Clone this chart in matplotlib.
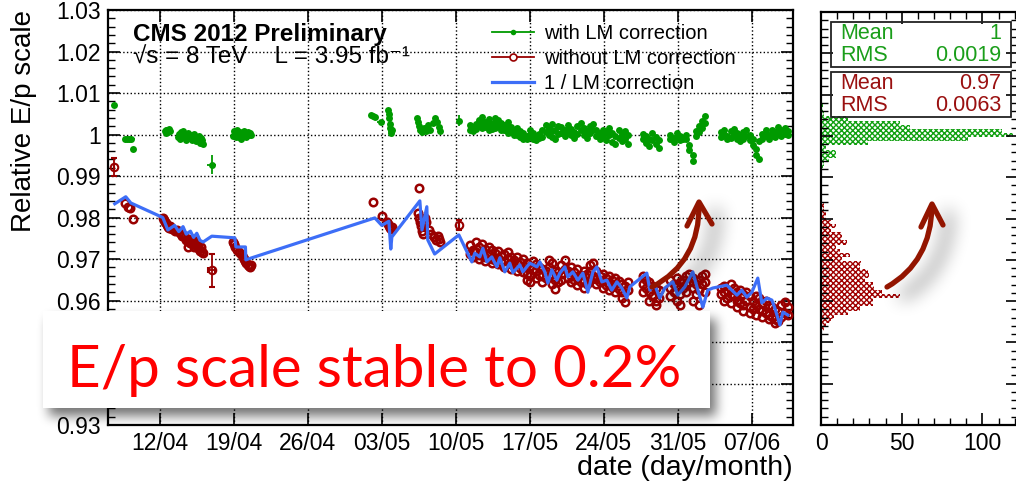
import numpy as np
import matplotlib
matplotlib.use('Agg')
import matplotlib.pyplot as plt
from matplotlib.lines import Line2D
from matplotlib.patches import Rectangle, PathPatch
from matplotlib.path import Path
from matplotlib.ticker import MultipleLocator, FixedLocator, FuncFormatter

plt.rcParams['font.family'] = ['Liberation Sans', 'DejaVu Sans']
plt.rcParams['hatch.linewidth'] = 1.0

GREEN = '#009a00'
RED = '#990000'
BLUE = '#3d6ef7'
ARROW = '#931500'

# x axis: day count from 31 March (12 = 12/04, 33 = 03/05, 68 = 07/06)
tick_days = [12, 19, 26, 33, 40, 47, 54, 61, 68]
tick_labels = ['12/04', '19/04', '26/04', '03/05', '10/05', '17/05', '24/05', '31/05', '07/06']

# ---- with LM correction (green) ----
green_days = [7.65, 8.7, 8.9, 9.1, 9.5,
              12.5, 12.55, 12.6, 12.7, 12.8, 12.9, 13.0,
              13.7, 13.8, 13.9, 14.0, 14.1, 14.2, 14.3, 14.4, 14.5, 14.6, 14.7, 14.8, 14.9,
              15.0, 15.1, 15.2, 15.3, 15.4, 15.5, 15.6, 15.7, 15.8, 15.9, 16.0, 16.1,
              18.9, 19.0, 19.1, 19.2, 19.3, 19.4, 19.5, 19.6, 19.7, 19.8, 19.9, 20.0, 20.1,
              20.2, 20.3, 20.4, 20.5, 20.6,
              32.0, 32.2, 32.4,
              33.6, 33.65, 33.7, 33.75, 33.8, 33.85, 33.9, 34.0,
              36.3, 36.4, 36.5, 36.6, 36.8, 37.0, 37.2, 37.4, 37.6, 37.8, 38.0, 38.2, 38.4, 38.5]
green_vals = [1.0072, 0.9988, 0.9990, 0.9989, 0.9966,
              1.0008, 1.0003, 1.0012, 1.0010, 1.0005, 1.0013, 1.0009,
              0.9995, 1.0002, 0.9990, 1.0005, 0.9998, 1.0008, 0.9994, 1.0001, 0.9987, 0.9996, 1.0003, 0.9992, 0.9999,
              0.9986, 0.9995, 1.0001, 0.9990, 0.9984, 0.9994, 0.9988, 0.9997, 0.9980, 0.9991, 0.9986, 0.9978,
              0.9997, 1.0008, 1.0002, 0.9993, 1.0010, 1.0000, 0.9995, 1.0005, 0.9990, 1.0002, 0.9996, 1.0009, 1.0003,
              0.9993, 1.0006, 0.9998, 1.0004, 0.9999,
              1.0048, 1.0044, 1.0041,
              1.0058, 1.0050, 1.0040, 1.0025, 1.0015, 1.0008, 1.0004, 1.0012,
              1.0040, 1.0030, 1.0020, 1.0012, 1.0006, 1.0015, 1.0008, 1.0022, 1.0012, 1.0028, 1.0040, 1.0030, 1.0018, 1.0009]

green_band_days = [41.3, 41.3, 41.6, 41.6, 41.9, 41.9, 42.2, 42.2, 42.5, 42.5, 42.5, 42.8, 42.8,
                   43.1, 43.1, 43.1, 43.4, 43.4, 43.7, 43.7, 43.7, 44.0, 44.0, 44.3, 44.3, 44.6, 44.6,
                   44.9, 44.9, 44.9, 45.2, 45.2, 45.5, 45.5, 45.8, 45.8, 46.1, 46.1, 46.4, 46.4, 46.7, 46.7,
                   47.0, 47.0, 47.3, 47.3, 47.6, 47.6, 47.9, 47.9, 48.2, 48.2, 48.5, 48.5, 48.8, 48.8,
                   49.1, 49.1, 49.1, 49.4, 49.4, 49.7, 49.7,
                   50.0, 50.0, 50.3, 50.3, 50.6, 50.6, 50.9, 50.9, 51.2, 51.2, 51.5, 51.5, 51.8, 51.8,
                   52.1, 52.1, 52.4, 52.4, 52.7, 52.7, 53.0, 53.0, 53.3, 53.3, 53.6, 53.6, 53.9, 53.9,
                   54.2, 54.2, 54.5, 54.5, 54.8, 54.8, 55.1, 55.1, 55.4, 55.4, 55.7, 55.7, 56.0, 56.0, 56.3, 56.3,
                   57.7, 57.7, 58.0, 58.0, 58.3, 58.3, 58.6, 58.6, 58.9, 58.9, 59.2, 59.2,
                   60.3, 60.3, 60.6, 60.6, 60.9, 60.9, 61.2, 61.2, 61.5, 61.8, 61.8, 62.1, 62.1, 62.4, 62.4,
                   62.7, 62.7, 63.0, 63.0, 63.3, 63.3, 63.6, 63.6,
                   65.1, 65.1, 65.4, 65.4, 65.7, 65.7, 66.0, 66.0, 66.3, 66.3, 66.6, 66.6, 66.9, 66.9,
                   67.2, 67.2, 67.5, 67.5, 67.8, 67.8, 68.1, 68.1, 68.4, 68.4, 68.7, 68.7, 69.0, 69.0,
                   69.3, 69.3, 69.6, 69.6, 69.9, 69.9, 70.2, 70.2, 70.5, 70.5, 70.8, 70.8, 71.1, 71.1, 71.4, 71.4]
green_band_vals = [1.0022, 1.0012, 1.0018, 1.0008, 1.0025, 1.0014, 1.0035, 1.0020, 1.0042, 1.0028, 1.0015, 1.0030, 1.0018,
                   1.0038, 1.0022, 1.0010, 1.0026, 1.0014, 1.0040, 1.0030, 1.0016, 1.0034, 1.0020, 1.0028, 1.0012, 1.0022, 1.0010,
                   1.0030, 1.0016, 1.0004, 1.0018, 1.0006, 1.0012, 1.0000, 1.0015, 0.9998, 1.0008, 0.9994, 1.0004, 0.9990, 0.9996, 0.9988,
                   1.0010, 0.9998, 1.0004, 0.9990, 0.9996, 0.9986, 1.0002, 0.9992, 1.0010, 0.9995, 1.0022, 1.0006, 1.0016, 0.9998,
                   1.0026, 1.0008, 0.9994, 1.0012, 0.9990, 1.0020, 1.0002,
                   1.0018, 1.0004, 1.0010, 0.9996, 1.0024, 1.0008, 1.0014, 0.9998, 1.0006, 0.9992, 1.0020, 1.0002, 1.0028, 1.0012,
                   1.0016, 0.9998, 1.0008, 0.9992, 1.0020, 1.0004, 1.0026, 1.0010, 1.0012, 0.9996, 1.0004, 0.9990, 1.0012, 0.9996,
                   1.0006, 0.9986, 1.0016, 1.0000, 1.0004, 0.9982, 0.9996, 0.9978, 1.0010, 0.9992, 1.0002, 0.9984, 1.0008, 0.9988, 0.9998, 0.9976,
                   1.0002, 0.9988, 0.9996, 0.9980, 0.9990, 0.9972, 1.0004, 0.9986, 0.9994, 0.9978, 0.9986, 0.9968,
                   0.9998, 0.9988, 0.9992, 0.9982, 1.0004, 0.9994, 0.9996, 0.9986, 0.9988, 1.0000, 0.9990, 0.9975, 0.9962, 0.9950, 0.9935,
                   1.0008, 0.9996, 1.0020, 1.0005, 1.0032, 1.0015, 1.0045, 1.0028,
                   1.0005, 0.9994, 1.0012, 0.9998, 0.9996, 0.9988, 1.0008, 0.9992, 1.0014, 1.0000, 1.0004, 0.9990, 0.9996, 0.9984,
                   1.0006, 0.9990, 1.0010, 0.9996, 0.9998, 0.9986, 0.9990, 0.9975, 0.9965, 0.9950, 0.9940, 0.9985, 1.0002, 0.9990,
                   1.0010, 0.9996, 1.0000, 0.9988, 1.0012, 1.0000, 1.0006, 0.9994, 1.0018, 1.0004, 1.0010, 0.9996, 1.0016, 1.0002, 1.0008, 0.9998]

# low-statistics runs drawn with their errors
green_err_days = [9.3, 16.9, 32.9, 40.3]
green_err_vals = [0.9990, 0.9927, 1.0031, 1.0033]
green_err_y = [0.0002, 0.0023, 0.0003, 0.0013]
green_err_x = [0.35, 0.4, 0.4, 0.0]

# ---- without LM correction (red) ----
red_days = [8.7, 9.0, 9.2, 9.5,
            12.3, 12.4, 12.5, 12.6, 12.7, 12.8, 12.9, 13.0, 13.2, 13.4, 13.6, 13.8, 14.0, 14.1, 14.2,
            14.4, 14.5, 14.6, 14.7, 14.8, 14.9, 15.0, 15.1, 15.2, 15.3, 15.4, 15.5, 15.6, 15.7, 15.8,
            15.9, 16.0, 16.1,
            18.9, 19.0, 19.1, 19.3, 19.5, 19.7, 19.9, 20.0, 20.1, 20.2, 20.3, 20.4, 20.5, 20.6,
            32.2, 33.0, 33.5, 33.6, 33.7, 33.8, 33.9, 34.0,
            36.5, 36.4, 36.5, 36.6, 36.7, 36.8, 36.9, 37.1, 37.2, 37.5, 37.7, 37.9, 38.1, 38.3, 38.4, 38.5]
red_vals = [0.9835, 0.9826, 0.9822, 0.9796,
            0.9800, 0.9795, 0.9790, 0.9786, 0.9781, 0.9778, 0.9775, 0.9779, 0.9772, 0.9768, 0.9770, 0.9764, 0.9760, 0.9755, 0.9758,
            0.9752, 0.9745, 0.9749, 0.9729, 0.9742, 0.9738, 0.9748, 0.9735, 0.9730, 0.9744, 0.9738, 0.9728, 0.9733, 0.9725, 0.9720,
            0.9730, 0.9718, 0.9714,
            0.9741, 0.9735, 0.9729, 0.9722, 0.9718, 0.9712, 0.9705, 0.9700, 0.9695, 0.9690, 0.9686, 0.9682, 0.9680, 0.9685,
            0.9837, 0.9804, 0.9790, 0.9784, 0.9779, 0.9775, 0.9772, 0.9778,
            0.9871, 0.9812, 0.9800, 0.9790, 0.9780, 0.9768, 0.9760, 0.9800, 0.9790, 0.9770, 0.9760, 0.9752, 0.9745, 0.9755, 0.9749, 0.9742]

red_band_days = [41.3, 41.3, 41.6, 41.6, 41.9, 41.9, 42.2, 42.2, 42.2, 42.5, 42.5, 42.8, 42.8, 42.8,
                 43.1, 43.1, 43.4, 43.4, 43.4, 43.7, 43.7, 44.0, 44.0, 44.0, 44.3, 44.3, 44.6, 44.6, 44.6,
                 44.9, 44.9, 45.2, 45.2, 45.2, 45.5, 45.5, 45.8, 45.8, 45.8, 46.1, 46.1, 46.4, 46.4, 46.4,
                 46.7, 46.7, 46.7, 47.0, 47.0, 47.0, 47.3, 47.3, 47.6, 47.6, 47.6, 47.9, 47.9, 48.2, 48.2, 48.2,
                 48.5, 48.5, 48.8, 48.8, 48.8, 49.1, 49.1, 49.1, 49.4, 49.4, 49.4, 49.7, 49.7,
                 50.0, 50.0, 50.0, 50.3, 50.3, 50.6, 50.6, 50.9, 50.9, 50.9, 51.2, 51.2, 51.5, 51.5, 51.5,
                 51.8, 51.8, 52.1, 52.1, 52.1, 52.4, 52.4, 52.7, 52.7, 52.7, 53.0, 53.0, 53.3, 53.3, 53.3,
                 53.6, 53.6, 53.9, 53.9, 53.9, 54.2, 54.2, 54.5, 54.5, 54.5, 54.8, 54.8, 55.1, 55.1, 55.1,
                 55.4, 55.4, 55.7, 55.7, 55.7, 56.0, 56.0, 56.3, 56.3,
                 57.7, 57.7, 57.7, 58.0, 58.0, 58.3, 58.3, 58.3, 58.6, 58.6, 58.9, 58.9, 58.9, 59.2, 59.2,
                 60.3, 60.3, 60.3, 60.6, 60.6, 60.9, 60.9, 60.9, 61.2, 61.2, 61.2, 61.5, 61.5, 61.8, 61.8, 61.8,
                 62.1, 62.1, 62.4, 62.4, 62.4, 62.7, 62.7, 63.0, 63.0, 63.0, 63.3, 63.3, 63.6, 63.6, 63.6,
                 65.1, 65.1, 65.4, 65.4, 65.4, 65.7, 65.7, 66.0, 66.0, 66.0, 66.3, 66.3, 66.6, 66.6, 66.6,
                 66.9, 66.9, 67.2, 67.2, 67.2, 67.5, 67.5, 67.8, 67.8, 67.8, 68.1, 68.1, 68.4, 68.4, 68.4,
                 68.7, 68.7, 69.0, 69.0, 69.0, 69.3, 69.3, 69.6, 69.6, 69.6, 69.9, 69.9, 70.2, 70.2, 70.2,
                 70.5, 70.5, 70.8, 70.8, 71.1, 71.1, 71.4, 71.4]
red_band_vals = [0.9734, 0.9712, 0.9722, 0.9705, 0.9740, 0.9718, 0.9728, 0.9710, 0.9700, 0.9735, 0.9715, 0.9725, 0.9705, 0.9695,
                 0.9730, 0.9712, 0.9722, 0.9700, 0.9690, 0.9715, 0.9698, 0.9720, 0.9703, 0.9688, 0.9708, 0.9692, 0.9712, 0.9695, 0.9680,
                 0.9718, 0.9700, 0.9705, 0.9688, 0.9675, 0.9698, 0.9682, 0.9705, 0.9690, 0.9672, 0.9693, 0.9678, 0.9700, 0.9684, 0.9668,
                 0.9690, 0.9665, 0.9650, 0.9682, 0.9660, 0.9645, 0.9695, 0.9675, 0.9688, 0.9670, 0.9655, 0.9680, 0.9662, 0.9676, 0.9658, 0.9645,
                 0.9672, 0.9655, 0.9698, 0.9680, 0.9660, 0.9690, 0.9665, 0.9640, 0.9670, 0.9650, 0.9628, 0.9668, 0.9645,
                 0.9685, 0.9665, 0.9650, 0.9698, 0.9675, 0.9672, 0.9655, 0.9680, 0.9660, 0.9645, 0.9668, 0.9650, 0.9676, 0.9655, 0.9638,
                 0.9662, 0.9645, 0.9670, 0.9650, 0.9630, 0.9665, 0.9640, 0.9685, 0.9670, 0.9650, 0.9690, 0.9660, 0.9672, 0.9652, 0.9640,
                 0.9660, 0.9645, 0.9665, 0.9648, 0.9630, 0.9655, 0.9638, 0.9660, 0.9640, 0.9625, 0.9650, 0.9632, 0.9655, 0.9640, 0.9620,
                 0.9648, 0.9628, 0.9640, 0.9620, 0.9605, 0.9635, 0.9596, 0.9645, 0.9625,
                 0.9660, 0.9640, 0.9620, 0.9650, 0.9630, 0.9645, 0.9620, 0.9600, 0.9635, 0.9610, 0.9630, 0.9600, 0.9589, 0.9625, 0.9605,
                 0.9650, 0.9630, 0.9610, 0.9640, 0.9620, 0.9655, 0.9635, 0.9600, 0.9645, 0.9615, 0.9590, 0.9650, 0.9630, 0.9660, 0.9640, 0.9620,
                 0.9665, 0.9645, 0.9655, 0.9630, 0.9600, 0.9640, 0.9615, 0.9650, 0.9625, 0.9590, 0.9660, 0.9640, 0.9665, 0.9645, 0.9620,
                 0.9630, 0.9615, 0.9635, 0.9620, 0.9600, 0.9625, 0.9605, 0.9640, 0.9615, 0.9595, 0.9630, 0.9610, 0.9620, 0.9600, 0.9585,
                 0.9625, 0.9595, 0.9615, 0.9590, 0.9575, 0.9620, 0.9600, 0.9610, 0.9585, 0.9570, 0.9600, 0.9580, 0.9612, 0.9590, 0.9565,
                 0.9605, 0.9580, 0.9595, 0.9575, 0.9560, 0.9600, 0.9570, 0.9590, 0.9565, 0.9555, 0.9585, 0.9560, 0.9580, 0.9555, 0.9545,
                 0.9575, 0.9550, 0.9590, 0.9560, 0.9596, 0.9570, 0.9585, 0.9565]

red_err_days = [7.7, 16.9, 40.3]
red_err_vals = [0.9922, 0.9673, 0.9782]
red_err_y = [0.0022, 0.0040, 0.0012]
red_err_x = [0.0, 0.35, 0.0]

# ---- 1 / LM correction (blue line) ----
lm_days = [7.74, 8.78, 9.26, 12.28, 12.76, 13.4, 13.8, 14.2, 14.5, 14.9, 15.2, 15.5, 15.8, 16.1,
           16.92, 19.1, 19.2, 20.1, 20.14, 20.6,
           32.34, 33.0, 33.67, 33.85, 33.95, 36.6, 36.8, 37.26, 37.35, 38.0, 40.29,
           41.52, 41.8, 42.27, 42.56, 42.94, 43.41, 43.88, 44.17, 44.64, 45.11, 45.4, 46.06, 46.34,
           47.0, 47.67, 47.95, 48.42, 48.71, 49.09, 49.56, 49.84, 50.32, 50.6, 51.07, 51.55, 52.02,
           52.49, 52.97, 53.34, 53.82, 54.29, 54.76, 55.24, 55.71, 56.18, 56.47, 58.07, 58.36, 58.83,
           59.3, 59.77, 60.53, 61.0, 61.67, 62.42, 62.9, 63.37, 63.84, 64.31, 65.64, 66.11, 66.59,
           67.06, 67.53, 68.01, 68.57, 68.95, 69.43, 69.9, 70.18, 70.66, 70.94, 71.41]
lm_vals = [0.9833, 0.9850, 0.9835, 0.9800, 0.9770, 0.9781, 0.9766, 0.9778, 0.9760, 0.9767, 0.9752, 0.9762, 0.9745, 0.9741,
           0.9755, 0.9751, 0.9729, 0.9729, 0.9698, 0.9702,
           0.9799, 0.9781, 0.9791, 0.9724, 0.9753, 0.9840, 0.9770, 0.9826, 0.9746, 0.9712, 0.9758,
           0.9693, 0.9714, 0.9705, 0.9726, 0.9693, 0.9705, 0.9681, 0.9703, 0.9669, 0.9690, 0.9667, 0.9686, 0.9669,
           0.9690, 0.9681, 0.9693, 0.9669, 0.9642, 0.9674, 0.9649, 0.9666, 0.9681, 0.9657, 0.9669, 0.9649, 0.9666,
           0.9620, 0.9669, 0.9681, 0.9645, 0.9649, 0.9625, 0.9645, 0.9630, 0.9606, 0.9633, 0.9666, 0.9625, 0.9637,
           0.9606, 0.9630, 0.9645, 0.9613, 0.9633, 0.9669, 0.9625, 0.9584, 0.9625, 0.9630, 0.9637, 0.9625, 0.9613,
           0.9625, 0.9608, 0.9620, 0.9654, 0.9594, 0.9606, 0.9601, 0.9582, 0.9541, 0.9572, 0.9565]

# ---- projections (0.001 wide bins, listed from the top bin down) ----
hist_bin = 0.001
green_hist_top = 1.0077
green_counts = [1, 1, 2, 17, 49, 55, 112, 119, 91, 29, 3, 9, 9, 5, 2, 1]
red_hist_top = 0.9837
red_counts = [2, 2, 3, 3, 6, 9, 6, 13, 13, 16, 9, 12, 18, 13, 25, 24, 29, 30, 27, 32, 33, 38, 49,
              32, 32, 24, 17, 8, 6, 3, 2]
stats_green = [('Mean', '1'), ('RMS', '0.0019')]
stats_red = [('Mean', '0.97'), ('RMS', '0.0063')]

# y labels sitting under the callout box
covered_ticks = [0.94, 0.95]

W, H = 1016, 482
fig = plt.figure(figsize=(W / 100, H / 100), dpi=100)
ax = fig.add_axes([108 / W, 57 / H, 685 / W, 415 / H])
axh = fig.add_axes([821 / W, 57 / H, 197 / W, 413 / H])

# main time series
ax.plot(red_days + red_band_days, red_vals + red_band_vals, 'o', ls='none', mfc='none', mec=RED,
        ms=5.4, mew=1.8, zorder=3)
ax.errorbar(red_err_days, red_err_vals, yerr=red_err_y, xerr=red_err_x, fmt='o', mfc='none', mec=RED,
            ecolor=RED, ms=5.4, mew=1.5, elinewidth=1.3, capsize=2, zorder=3)
ax.plot(green_days + green_band_days, green_vals + green_band_vals, 'o', ls='none', color=GREEN,
        ms=5, mew=0, zorder=4)
ax.errorbar(green_err_days, green_err_vals, yerr=green_err_y, xerr=green_err_x, fmt='o', color=GREEN,
            ms=5, mew=0, elinewidth=1.3, capsize=2, zorder=4)
ax.plot(lm_days, lm_vals, '-', color=BLUE, lw=2.3, zorder=5)


def ylab(v, pos):
    v = round(v, 2)
    return '' if v in covered_ticks else format(v, 'g')


ax.set_xlim(7.1, 71.9)
ax.set_ylim(0.93, 1.03)
ax.xaxis.set_major_locator(FixedLocator(tick_days))
ax.set_xticklabels(tick_labels)
ax.yaxis.set_major_locator(MultipleLocator(0.01))
ax.yaxis.set_minor_locator(MultipleLocator(0.002))
ax.yaxis.set_major_formatter(FuncFormatter(ylab))
ax.tick_params(which='both', direction='in', top=True, right=True, labelsize=16.5)
ax.tick_params(which='major', length=8.5, width=1.2, pad=5)
ax.tick_params(which='minor', length=5, width=1.0)
ax.grid(True, which='major', ls=':', color='k', lw=1.0)
ax.set_axisbelow(True)
for s in ax.spines.values():
    s.set_linewidth(1.6)

ax.set_ylabel('Relative E/p scale', fontsize=20, loc='top')
ax.yaxis.set_label_coords(-0.103, 1.0)
ax.set_xlabel('date (day/month)', fontsize=20.5, loc='right')
ax.xaxis.set_label_coords(1.0, -0.072)

ax.text(0.0365, 0.94, 'CMS 2012 Preliminary', transform=ax.transAxes, fontsize=17.5,
        fontweight='bold', va='center', ha='left')
ax.text(0.0365, 0.884, '\u221as = 8 TeV    L = 3.95 fb\u207b\u00b9', transform=ax.transAxes,
        fontsize=17.5, va='center', ha='left')

handles = [Line2D([], [], color=GREEN, marker='o', ms=4, mew=0, lw=1.3),
           Line2D([], [], color=RED, marker='o', mfc='white', mec=RED, ms=5, mew=1.2, lw=1.3),
           Line2D([], [], color=BLUE, lw=2.3)]
ax.legend(handles, ['with LM correction', 'without LM correction', '1 / LM correction'],
          loc='upper left', bbox_to_anchor=(0.5606, 0.966), frameon=False, fontsize=14.5,
          handlelength=2.1, handletextpad=0.5, labelspacing=0.3, borderpad=0, borderaxespad=0)

# projection histograms
g_centers = [green_hist_top - (i + 0.5) * hist_bin for i in range(len(green_counts))]
r_centers = [red_hist_top - (i + 0.5) * hist_bin for i in range(len(red_counts))]
axh.barh(g_centers, green_counts, height=hist_bin, facecolor='none', edgecolor='#10a010',
         linewidth=0, hatch='xxxxxx')
axh.barh(r_centers, red_counts, height=hist_bin, facecolor='none', edgecolor='#a00000',
         linewidth=0, hatch='xxxxxx')
axh.set_ylim(0.93, 1.03)
axh.set_xlim(0, 122)
axh.xaxis.set_major_locator(MultipleLocator(50))
axh.xaxis.set_minor_locator(MultipleLocator(10))
axh.yaxis.set_major_locator(MultipleLocator(0.01))
axh.yaxis.set_minor_locator(MultipleLocator(0.002))
axh.tick_params(which='both', direction='in', top=True, right=True, labelsize=16.5, labelleft=False)
axh.tick_params(which='major', length=8.5, width=1.2, pad=5)
axh.tick_params(which='minor', length=5, width=1.0)
for s in axh.spines.values():
    s.set_linewidth(1.6)

# stat boxes
for (y0, y1), rows, col in [((0.8668, 0.9758), stats_green, '#1a9e1a'),
                            ((0.7458, 0.8547), stats_red, '#9a1010')]:
    axh.add_patch(Rectangle((0.0508, y0), 0.913, y1 - y0, transform=axh.transAxes, fill=False,
                            lw=1.3, ec='#222222', clip_on=False, zorder=6))
    for k, (name, val) in enumerate(rows):
        yy = y1 - (0.25 + 0.5 * k) * (y1 - y0)
        axh.text(0.0964, yy, name, transform=axh.transAxes, color=col, fontsize=15.5,
                 va='center', ha='left', zorder=7)
        axh.text(0.914, yy, val, transform=axh.transAxes, color=col, fontsize=15.5,
                 va='center', ha='right', zorder=7)

# overlay in pixel coordinates: callout box, arrows and their shadows
ov = fig.add_axes([0, 0, 1, 1], zorder=10)
ov.patch.set_alpha(0)
ov.axis('off')

box = (43, 311, 710, 408)
arrows = [((652, 287), (700, 262), (699, 204), [(687, 226), (699, 202), (712, 224)]),
          ((887, 287), (931, 262), (932, 206), [(921, 227), (932, 204), (943, 225)])]


def box_blur(a, r, n=3):
    k = np.ones(2 * r + 1) / (2 * r + 1)
    for _ in range(n):
        a = np.apply_along_axis(lambda m: np.convolve(m, k, mode='same'), 0, a)
        a = np.apply_along_axis(lambda m: np.convolve(m, k, mode='same'), 1, a)
    return a


yy, xx = np.mgrid[0:H, 0:W]
box_mask = np.zeros((H, W))
box_mask[box[1] + 8:box[3] + 8, box[0] + 6:box[2] + 6] = 1.0
box_mask = box_blur(box_mask, 5)

arrow_mask = np.zeros((H, W))
for p0, p1, p2, head in arrows:
    for t in np.linspace(0, 1, 60):
        cx = (1 - t) ** 2 * p0[0] + 2 * t * (1 - t) * p1[0] + t ** 2 * p2[0] + 16
        cy = (1 - t) ** 2 * p0[1] + 2 * t * (1 - t) * p1[1] + t ** 2 * p2[1] + 8
        arrow_mask[(xx - cx) ** 2 + (yy - cy) ** 2 < 20] = 1.0
arrow_mask = box_blur(arrow_mask, 8)

shadow = np.zeros((H, W, 4))
shadow[..., 3] = np.clip(0.55 * box_mask + 0.4 * arrow_mask, 0, 1)
ov.imshow(shadow, extent=(0, W, H, 0), aspect='auto', interpolation='bilinear', zorder=1)

ov.add_patch(Rectangle((box[0], box[1]), box[2] - box[0], box[3] - box[1], fc='white', ec='none',
                       zorder=2))
ov.text(67, 387, 'E/p scale stable to 0.2%', color='#ff0000', fontsize=42,
        family=['Lato', 'DejaVu Sans'], ha='left', va='baseline', zorder=3)

for p0, p1, p2, head in arrows:
    curve = Path([p0, p1, p2], [Path.MOVETO, Path.CURVE3, Path.CURVE3])
    ov.add_patch(PathPatch(curve, fc='none', ec=ARROW, lw=3.8, capstyle='round', zorder=3))
    ov.add_patch(PathPatch(Path(head), fc='none', ec=ARROW, lw=3.8, capstyle='round',
                           joinstyle='round', zorder=3))

ov.set_xlim(0, W)
ov.set_ylim(H, 0)

fig.savefig('out.png', dpi=100)
